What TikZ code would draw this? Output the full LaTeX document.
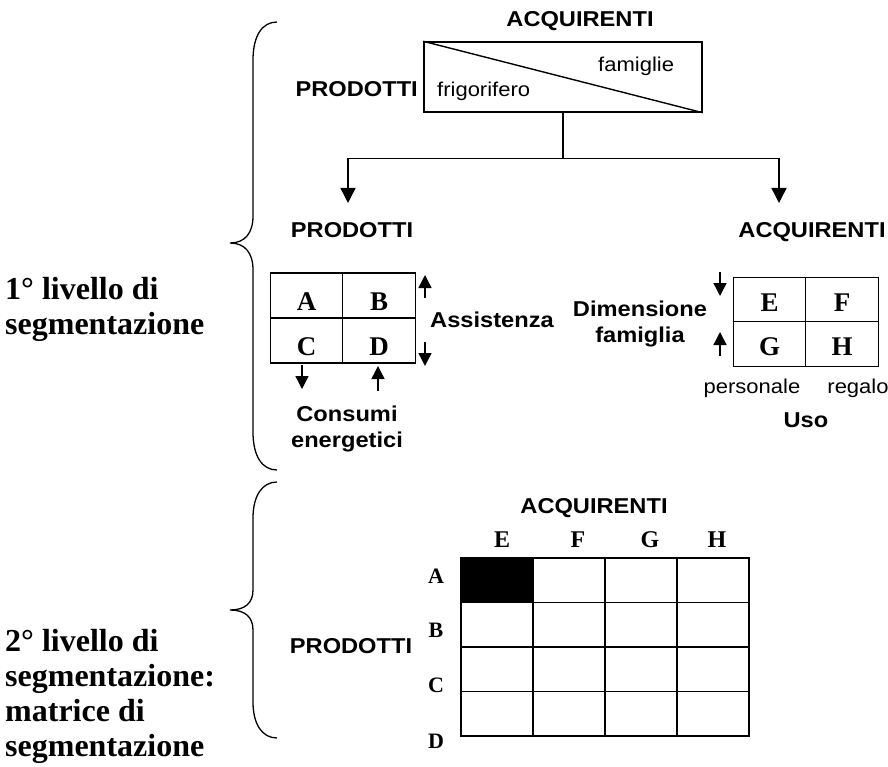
\documentclass[tikz,border=0pt]{standalone}
\usepackage{fontspec}
\setmainfont{Liberation Serif}
\newfontfamily\sansfnt[FakeStretch=1.1]{Liberation Sans}
\usetikzlibrary{arrows.meta,calc}

\tikzset{
  ln/.style={line width=1.4pt},
  head/.style={-{Triangle[length=15pt,width=15pt]}},
  smallhead/.style={-{Triangle[length=13pt,width=13pt]}},
  hdr/.style={font=\sansfnt\bfseries\fontsize{21.5}{25.5}\selectfont, inner sep=0pt},
  note/.style={font=\sansfnt\fontsize{20}{24}\selectfont, inner sep=0pt},
  lvl/.style={font=\bfseries\fontsize{32}{35}\selectfont, align=left, inner sep=0pt},
  cellL/.style={draw, ln, minimum width=72.5pt, minimum height=45pt, inner sep=0pt,
    font=\bfseries\fontsize{27}{27}\selectfont, text height=30pt, text depth=0pt},
  cellR/.style={draw, ln, minimum width=72.5pt, minimum height=44.5pt, inner sep=0pt,
    font=\bfseries\fontsize{27}{27}\selectfont, text height=23pt, text depth=0pt},
  cellM/.style={draw, ln, minimum width=72pt, minimum height=44.5pt, inner sep=0pt},
  axisletter/.style={font=\bfseries\fontsize{24}{24}\selectfont, inner sep=0pt},
  rowletter/.style={font=\bfseries\fontsize{22}{22}\selectfont, inner sep=0pt}
}

\begin{document}
\begin{tikzpicture}[x=1pt,y=-1pt]
\useasboundingbox (0,0) rectangle (888,767);

% ---------- braces ----------
\draw[line width=1.3pt] (277,22) .. controls (262,22) and (253,36) .. (253,60)
  -- (253,216) .. controls (253,233) and (245,243) .. (230,243)
  .. controls (245,243) and (253,253) .. (253,270)
  -- (253,432) .. controls (253,456) and (262,470) .. (277,470);
\draw[line width=1.3pt] (277,482) .. controls (262,482) and (253,496) .. (253,518)
  -- (253,590) .. controls (253,603) and (245,610) .. (230,610)
  .. controls (245,610) and (253,617) .. (253,630)
  -- (253,702) .. controls (253,724) and (262,738) .. (277,738);

% ---------- level texts (base anchor = last line) ----------
\node[lvl, anchor=base west] (lvlone) at (5,334) {1° livello di\\segmentazione};
\node[lvl, anchor=base west] (lvltwo) at (5,756) {2° livello di\\segmentazione:\\matrice di\\segmentazione};

% ---------- top box ----------
\node[draw, ln, minimum width=278pt, minimum height=70pt, inner sep=0pt] (top) at (563,77) {};
\draw[ln] (top.north west) -- (top.south east);
\node[hdr, anchor=base] (acqtop) at (580,27) {ACQUIRENTI};
\node[hdr, anchor=base east] (prodtop) at (418,97) {PRODOTTI};
\node[note, anchor=base west] (frigo) at (437,97) {frigorifero};
\node[note, anchor=base west] (fam) at (598,72) {famiglie};

% ---------- split connector ----------
\coordinate (split) at ($(top.south)+(0,46)$);
\coordinate (lEnd) at (348,203);
\coordinate (rEnd) at (779,203);
\draw[ln] (top.south) -- (split);
\draw[ln, head] (split) -| (lEnd);
\draw[ln, head] (split) -| (rEnd);

\node[hdr, anchor=base] (prodmid) at (352,238) {PRODOTTI};
\node[hdr, anchor=base] (acqmid) at (812,238) {ACQUIRENTI};

% ---------- products matrix ----------
\node[cellL] (A) at (306.5,295.5) {A};
\node[cellL] (B) at (379,295.5) {B};
\node[cellL] (C) at (306.5,340.5) {C};
\node[cellL] (D) at (379,340.5) {D};

\coordinate (assUpS) at (425,298);  \coordinate (assUpE) at (425,275);
\coordinate (assDnS) at (425,342);  \coordinate (assDnE) at (425,366);
\draw[ln, smallhead] (assUpS) -- (assUpE);
\draw[ln, smallhead] (assDnS) -- (assDnE);
\node[hdr, anchor=base west] (ass) at (430,327) {Assistenza};

\coordinate (conDnS) at (302,365);  \coordinate (conDnE) at (302,389);
\coordinate (conUpS) at (378,391);  \coordinate (conUpE) at (378,366);
\draw[ln, smallhead] (conDnS) -- (conDnE);
\draw[ln, smallhead] (conUpS) -- (conUpE);
\node[hdr, anchor=base, align=center] (cons) at (347,447) {Consumi\\energetici};

% ---------- buyers matrix ----------
\node[cellR] (E) at (769.5,299.5) {E};
\node[cellR] (F) at (842,299.5) {F};
\node[cellR] (G) at (769.5,344) {G};
\node[cellR] (H) at (842,344) {H};

\coordinate (dimDnS) at (720,272);  \coordinate (dimDnE) at (720,296);
\coordinate (dimUpS) at (720,356);  \coordinate (dimUpE) at (720,332);
\draw[ln, smallhead] (dimDnS) -- (dimDnE);
\draw[ln, smallhead] (dimUpS) -- (dimUpE);
\node[hdr, anchor=base, align=center] (dim) at (640,342) {Dimensione\\famiglia};

\node[note, anchor=base] (pers) at (752,393) {personale};
\node[note, anchor=base] (reg) at (858,393) {regalo};
\node[hdr, anchor=base] (uso) at (806,427) {Uso};

% ---------- segmentation matrix ----------
\node[hdr, anchor=base] (acqbot) at (594,513) {ACQUIRENTI};
\node[hdr, anchor=base] (prodbot) at (351,653) {PRODOTTI};

\foreach \c/\lab/\lx in {0/E/502,1/F/578,2/G/650,3/H/717}{
  \node[axisletter, anchor=base] (col\c) at (\lx,547) {\lab};
}
\foreach \r/\lab/\ly in {0/A/583,1/B/637,2/C/692,3/D/748}{
  \node[rowletter, anchor=base] (row\r) at (436,\ly) {\lab};
}
\foreach \r in {0,...,3}{
  \foreach \c in {0,...,3}{
    \node[cellM] (m\r\c) at ({497+72*\c},{580.25+44.5*\r}) {};
  }
}
\fill (m00.north west) rectangle (m00.south east);
\end{tikzpicture}
\end{document}
